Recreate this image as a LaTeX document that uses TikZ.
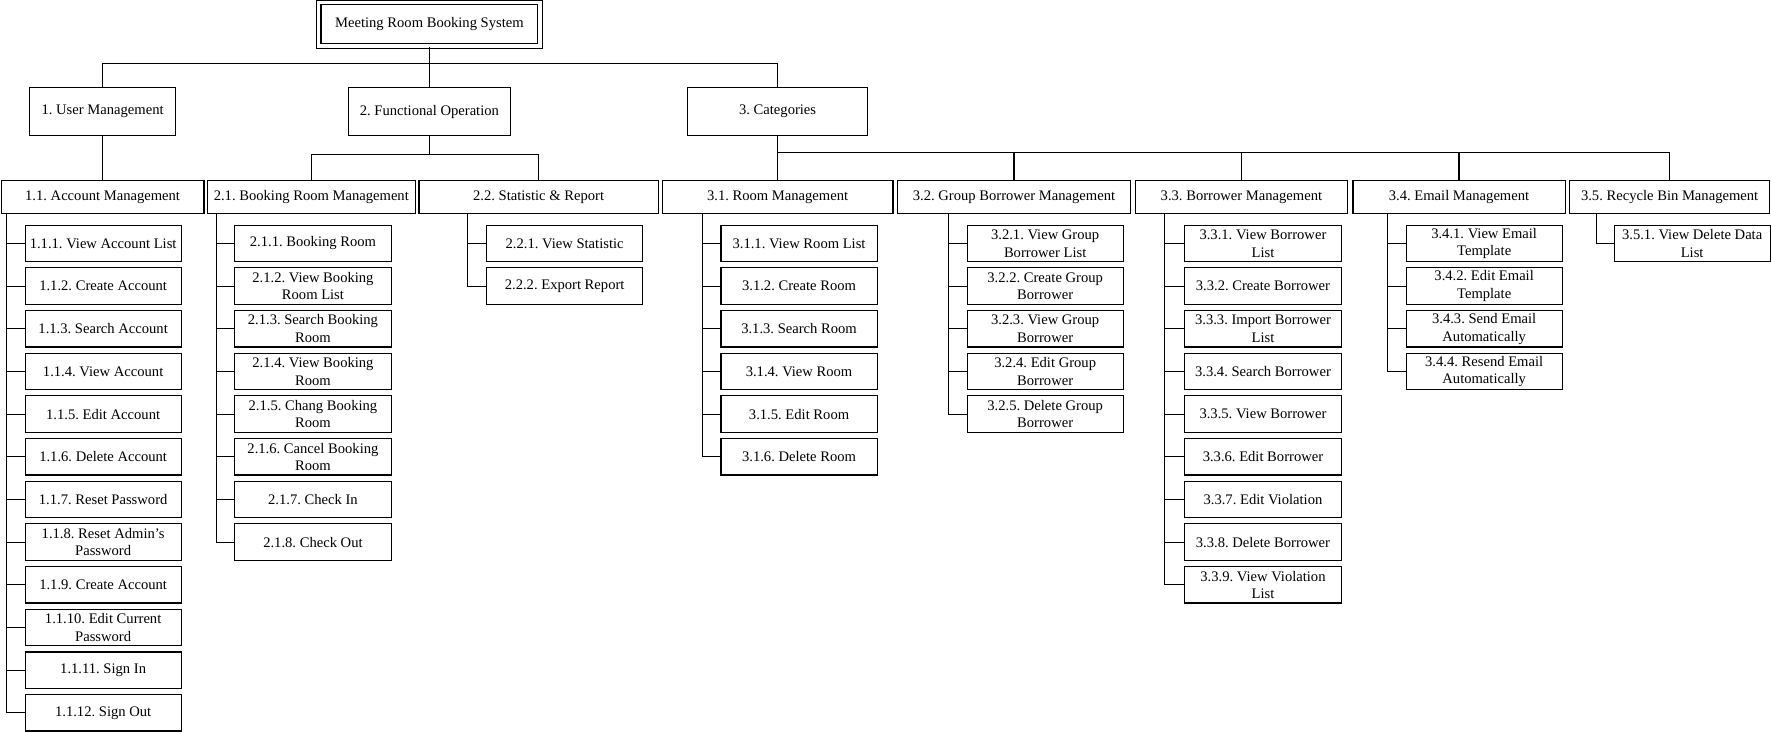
\documentclass[tikz,border=0pt]{standalone}
\usepackage{fontspec}
\setmainfont{Liberation Serif}
\frenchspacing
\begin{document}
\begin{tikzpicture}[x=1pt,y=-1pt,
  every node/.style={font=\fontsize{14.6}{17.6}\selectfont},
  wire/.style={line width=1.1pt},
  boxbase/.style={draw, line width=1.1pt, inner sep=0pt, align=center},
  topbox/.style={boxbase, minimum height=48pt},
  midbox/.style={boxbase, minimum height=32.6pt},
  leafbox/.style={boxbase, minimum width=156.2pt, minimum height=36.4pt, anchor=north west},
]
\useasboundingbox (0,0) rectangle (1771,731);

% root
\node[boxbase, double, double distance=3.6pt, minimum width=221.6pt, minimum height=43.6pt]
  (root) at (429.4,24.3) {Meeting Room Booking System};

% first level
\node[topbox, minimum width=146.6pt] (u1) at (102.6,111.7) {1. User Management};
\node[topbox, minimum width=161.5pt] (u2) at (429.4,111.7) {2. Functional Operation};
\node[topbox, minimum width=180pt]   (u3) at (777.6,111.7) {3. Categories};

% second level
\node[midbox, minimum width=202.8pt] (A) at (102.6,197) {1.1. Account Management};
\node[midbox, minimum width=207.8pt] (B) at (311.3,197) {2.1. Booking Room Management};
\node[midbox, minimum width=239.2pt] (C) at (538.6,197) {2.2. Statistic \& Report};
\node[midbox, minimum width=230.8pt] (D) at (777.6,197) {3.1. Room Management};
\node[midbox, minimum width=233.4pt] (E) at (1014,197) {3.2. Group Borrower Management};
\node[midbox, minimum width=212.7pt] (F) at (1241.4,197) {3.3. Borrower Management};
\node[midbox, minimum width=212.1pt] (G) at (1459,197) {3.4. Email Management};
\node[midbox, minimum width=200.3pt] (H) at (1669.6,197) {3.5. Recycle Bin Management};

% root to first level
\coordinate (bus0) at (429.4,63.3);
\draw[wire] (root.south) -- (bus0);
\draw[wire] (u1.north) -- (u1.north |- bus0) -- (u3.north |- bus0) -- (u3.north);
\draw[wire] (bus0) -- (u2.north);

% first level to second level
\draw[wire] (u1.south) -- (A.north);
\coordinate (bus2) at (429.4,154.3);
\draw[wire] (u2.south) -- (bus2);
\draw[wire] (B.north) -- (B.north |- bus2) -- (C.north |- bus2) -- (C.north);
\coordinate (bus3) at (777.6,152.7);
\draw[wire] (u3.south) -- (bus3);
\draw[wire] (D.north) -- (D.north |- bus3) -- (H.north |- bus3) -- (H.north);
\foreach \p in {E,F,G} \draw[wire] (\p.north) -- (\p.north |- bus3);

% branch tops under second level
\coordinate (tA) at (6.8,213.3);
\coordinate (tB) at (216.8,213.3);
\coordinate (tC) at (467.6,213.3);
\coordinate (tD) at (702.4,213.3);
\coordinate (tE) at (948.5,213.3);
\coordinate (tF) at (1164.5,213.3);
\coordinate (tG) at (1387.5,213.3);
\coordinate (tH) at (1596.4,213.3);

% 1.1 leaves
\foreach \i/\txt in {1/{View Account List},2/{Create Account},3/{Search Account},
  4/{View Account},5/{Edit Account},6/{Delete Account},7/{Reset Password},
  8/{Reset Admin’s\\Password},9/{Create Account},10/{Edit Current\\Password},
  11/{Sign In},12/{Sign Out}}{
  \node[leafbox] (a\i) at (24.5,{224.7+42.67*(\i-1)}) {1.1.\i. \txt};
  \draw[wire] (tA) |- (a\i.west);
}

% 2.1 leaves
\foreach \i/\txt in {1/{Booking Room},2/{View Booking\\Room List},3/{Search Booking\\Room},
  4/{View Booking\\Room},5/{Chang Booking\\Room},6/{Cancel Booking\\Room},
  7/{Check In},8/{Check Out}}{
  \node[leafbox] (b\i) at (234.3,{224.7+42.67*(\i-1)}) {2.1.\i. \txt};
  \draw[wire] (tB) |- (b\i.west);
}

% 2.2 leaves
\foreach \i/\txt in {1/{View Statistic},2/{Export Report}}{
  \node[leafbox] (c\i) at (486,{224.7+42.67*(\i-1)}) {2.2.\i. \txt};
  \draw[wire] (tC) |- (c\i.west);
}

% 3.1 leaves
\foreach \i/\txt in {1/{View Room List},2/{Create Room},3/{Search Room},
  4/{View Room},5/{Edit Room},6/{Delete Room}}{
  \node[leafbox] (d\i) at (720.4,{224.7+42.67*(\i-1)}) {3.1.\i. \txt};
  \draw[wire] (tD) |- (d\i.west);
}

% 3.2 leaves
\foreach \i/\txt in {1/{View Group\\Borrower List},2/{Create Group\\Borrower},
  3/{View Group\\Borrower},4/{Edit Group\\Borrower},5/{Delete Group\\Borrower}}{
  \node[leafbox] (e\i) at (966.5,{224.7+42.67*(\i-1)}) {3.2.\i. \txt};
  \draw[wire] (tE) |- (e\i.west);
}

% 3.3 leaves
\foreach \i/\txt in {1/{View Borrower\\List},2/{Create Borrower},3/{Import Borrower\\List},
  4/{Search Borrower},5/{View Borrower},6/{Edit Borrower},7/{Edit Violation},
  8/{Delete Borrower},9/{View Violation\\List}}{
  \node[leafbox] (f\i) at (1184.3,{224.7+42.67*(\i-1)}) {3.3.\i. \txt};
  \draw[wire] (tF) |- (f\i.west);
}

% 3.4 leaves
\foreach \i/\txt in {1/{View Email\\Template},2/{Edit Email\\Template},
  3/{Send Email\\Automatically},4/{Resend Email\\Automatically}}{
  \node[leafbox] (g\i) at (1405.5,{224.7+42.67*(\i-1)}) {3.4.\i. \txt};
  \draw[wire] (tG) |- (g\i.west);
}

% 3.5 leaves
\node[leafbox] (h1) at (1613.5,224.7) {3.5.1. View Delete Data\\List};
\draw[wire] (tH) |- (h1.west);

\end{tikzpicture}
\end{document}
